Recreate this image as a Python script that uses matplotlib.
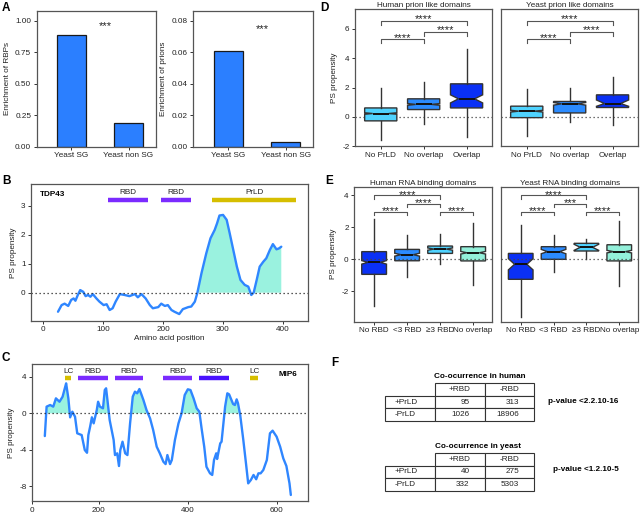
import matplotlib
matplotlib.use('Agg')
import matplotlib.pyplot as plt
import numpy as np
from matplotlib.table import Table

plt.rcParams['font.family'] = ['Liberation Sans', 'DejaVu Sans']
plt.rcParams['font.size'] = 6
plt.rcParams['axes.unicode_minus'] = False

# ---------------- data ----------------
sg_categories = ['Yeast SG', 'Yeast non SG']
rbp_enrichment = [0.885, 0.19]
prion_enrichment = [0.0605, 0.003]

tdp43_pos = [25, 31, 36, 42, 47, 51, 54, 58, 62, 67, 71, 75, 79, 83, 89, 94, 101, 106, 111, 116,
             121, 128, 136, 144, 153, 158, 164, 171, 178, 183, 192, 197, 203, 208, 214, 219, 227,
             233, 242, 247, 253, 257, 264, 272, 279, 286, 290, 294, 300, 306, 311, 317, 323, 329,
             336, 342, 347, 351, 356, 361, 367, 372, 378, 383, 389, 393, 397]
tdp43_ps = [-0.66, -0.43, -0.38, -0.46, -0.25, -0.2, -0.28, -0.08, 0.09, 0.03, -0.12, -0.08, -0.14,
            -0.05, -0.2, -0.31, -0.43, -0.4, -0.6, -0.54, -0.31, -0.05, -0.08, -0.12, -0.05, -0.16,
            -0.05, -0.2, -0.43, -0.54, -0.5, -0.38, -0.46, -0.43, -0.6, -0.66, -0.74, -0.57, -0.5,
            -0.48, -0.31, -0.02, 0.67, 1.36, 1.88, 2.17, 2.4, 2.67, 2.69, 2.52, 2.06, 1.48, 0.9,
            0.44, 0.27, 0.21, -0.08, 0.0, 0.44, 0.9, 1.07, 1.19, 1.48, 1.68, 1.5, 1.53, 1.59]
tdp43_domains = ['RBD', 'RBD', 'PrLD']
tdp43_dom_start = [108, 197, 282]
tdp43_dom_end = [175, 247, 422]

mip6_pos = [78, 82, 90, 97, 103, 111, 118, 124, 126, 131, 135, 140, 146, 151, 161, 168, 173, 176,
            180, 184, 188, 195, 198, 202, 209, 213, 216, 219, 224, 233, 236, 241, 245, 248, 253,
            259, 264, 270, 276, 281, 286, 291, 296, 300, 307, 315, 322, 330, 337, 345, 350, 354,
            360, 364, 371, 379, 386, 393, 400, 406, 413, 420, 426, 431, 437, 442, 450, 455, 459,
            464, 466, 473, 476, 484, 489, 493, 502, 506, 510, 513, 518, 525, 531, 536, 542, 548,
            554, 559, 564, 570, 578, 585, 591, 600, 608, 615, 622, 629, 632]
mip6_ps = [-2.49, 0.73, 0.91, 0.73, 1.64, 1.27, 1.82, 2.92, 3.28, 1.64, -0.44, 0.18, -0.37, -2.19,
           -2.38, -4.02, -4.32, -2.38, -1.47, -0.44, -1.1, 0.36, 1.27, 0.73, 0.55, 2.55, 2.74, 1.46,
           -0.73, -2.92, -4.57, -4.38, -5.77, -4.02, -3.11, -4.38, -4.57, -1.1, 1.82, 2.37, 2.19,
           2.66, 2.0, 1.46, 0.36, -0.55, -1.83, -3.66, -4.38, -5.3, -5.56, -4.57, -5.56, -5.11,
           -2.92, -1.1, 0.0, 2.0, 2.63, 2.55, 1.64, 0.55, 0.18, -1.64, -3.66, -5.85, -6.57, -6.75,
           -5.11, -4.38, -5.0, -3.29, -3.11, 0.73, 2.19, 2.08, 1.02, 0.91, 1.53, 1.1, -0.19, -2.92,
           -5.48, -7.67, -7.3, -6.75, -7.22, -6.57, -6.57, -6.21, -5.11, -2.19, -1.9, -2.56, -3.66,
           -4.93, -5.77, -7.67, -8.94]
mip6_domains = ['LC', 'RBD', 'RBD', 'RBD', 'RBD', 'LC']
mip6_dom_start = [124, 152, 235, 345, 426, 540]
mip6_dom_end = [137, 220, 300, 409, 492, 559]
mip6_xticklabels = ['0', '200', '400', '600']

prld_categories = ['No PrLD', 'No overlap', 'Overlap']
human_prld_whislo = [-1.59, -0.45, -1.4]
human_prld_q1 = [-0.27, 0.5, 0.61]
human_prld_med = [0.23, 0.85, 1.23]
human_prld_q3 = [0.61, 1.23, 2.25]
human_prld_whishi = [1.94, 2.37, 4.6]
human_prld_cilo = [0.18, 0.79, 0.95]
human_prld_cihi = [0.28, 0.91, 1.5]

yeast_prld_whislo = [-1.27, -0.36, -0.55]
yeast_prld_q1 = [-0.05, 0.27, 0.64]
yeast_prld_med = [0.39, 0.89, 0.91]
yeast_prld_q3 = [0.73, 1.05, 1.5]
yeast_prld_whishi = [1.91, 2.0, 2.73]
yeast_prld_cilo = [0.33, 0.8, 0.72]
yeast_prld_cihi = [0.45, 0.98, 1.15]

rbd_categories = ['No RBD', '<3 RBD', '\u22653 RBD', 'No overlap']
human_rbd_whislo = [-2.92, -1.09, -0.29, -1.6]
human_rbd_q1 = [-0.94, -0.09, 0.37, -0.1]
human_rbd_med = [-0.19, 0.29, 0.64, 0.41]
human_rbd_q3 = [0.48, 0.62, 0.83, 0.79]
human_rbd_whishi = [2.5, 1.5, 1.58, 2.25]
human_rbd_cilo = [-0.3, 0.2, 0.57, 0.33]
human_rbd_cihi = [-0.08, 0.38, 0.71, 0.49]

yeast_rbd_whislo = [-3.63, -0.82, 0.0, -1.67]
yeast_rbd_q1 = [-1.25, 0.0, 0.52, -0.1]
yeast_rbd_med = [-0.31, 0.48, 0.75, 0.48]
yeast_rbd_q3 = [0.37, 0.79, 1.0, 0.91]
yeast_rbd_whishi = [2.14, 1.52, 1.25, 2.39]
yeast_rbd_cilo = [-0.66, 0.35, 0.56, 0.4]
yeast_rbd_cihi = [0.04, 0.62, 0.94, 0.56]

prld_pairs = [(0, 1), (1, 2), (0, 2)]
human_prld_sig = ['****', '****', '****']
yeast_prld_sig = ['****', '****', '****']
prld_bracket_y = [5.3, 5.8, 6.55]

rbd_pairs = [(0, 1), (1, 2), (0, 2), (2, 3)]
human_rbd_sig = ['****', '****', '****', '****']
yeast_rbd_sig = ['****', '***', '****', '****']
rbd_bracket_y = [2.98, 3.46, 4.0, 2.98]

row_labels = ['+PrLD', '-PrLD']
col_labels = ['+RBD', '-RBD']
human_counts = [[95, 313], [1026, 18906]]
yeast_counts = [[40, 275], [332, 5303]]
human_pvalue = 'p-value <2.2.10-16'
yeast_pvalue = 'p-value <1.2.10-5'

# ---------------- style ----------------
W, H = 643, 513
fig = plt.figure(figsize=(W / 100, H / 100), dpi=100)

EDGE = '#555555'
BAR_BLUE = '#2B7FFF'
LINE_BLUE = '#2F86FF'
AQUA = '#9AF2DF'
PURPLE = '#7B2BFF'
DEEP_PURPLE = '#4A12FF'
GOLD = '#D6BE00'
C_LIGHT = '#4FD3FF'
C_MID = '#2B8BFF'
C_DEEP = '#0A30F5'
C_AQUA = '#93F0DA'
FS = 5.9
STAR_FS = 8


def add_ax(l, t, r, b):
    return fig.add_axes([l / W, 1 - b / H, (r - l) / W, (b - t) / H])


def style(ax):
    for s in ax.spines.values():
        s.set_color(EDGE)
        s.set_linewidth(0.9)
    ax.tick_params(length=2.5, width=0.7, color='#333333', labelsize=FS, pad=1.5,
                   labelcolor='#222222')


def panel_label(txt, x, y):
    fig.text(x / W, 1 - y / H, txt, fontsize=8.5, fontweight='bold', va='top', ha='left')


# ---------------- Panel A ----------------
for (l, r), vals, ylab, ticks, fmt, top, star_y in [
        ((36.7, 156), rbp_enrichment, 'Enrichment of RBPs', [0, 0.25, 0.5, 0.75, 1.0], '%.2f', 1.079, 0.93),
        ((193.3, 313.3), prion_enrichment, 'Enrichment of prions', [0, 0.02, 0.04, 0.06, 0.08], '%.2f', 0.0864, 0.073)]:
    ax = add_ax(l, 10.7, r, 146.7)
    style(ax)
    x = np.arange(len(sg_categories))
    ax.bar(x, vals, width=0.5, color=BAR_BLUE, edgecolor='#1a1a1a', linewidth=0.9)
    ax.set_xlim(-0.605, 1.48)
    ax.set_ylim(0, top)
    ax.set_xticks(x)
    ax.set_xticklabels(sg_categories)
    ax.set_yticks(ticks)
    ax.set_yticklabels([fmt % t for t in ticks])
    ax.set_ylabel(ylab, fontsize=FS, labelpad=3, color='#222222')
    ax.text(0.6, star_y, '***', ha='center', va='baseline', fontsize=STAR_FS, color='#222222')
panel_label('A', 2, 2)

# ---------------- Panel B ----------------
axB = add_ax(31, 184, 308.3, 320.7)
style(axB)
bx = np.array(tdp43_pos)
by = np.array(tdp43_ps)
axB.fill_between(bx, by, 0, where=by > 0, interpolate=True, color=AQUA, linewidth=0)
axB.plot(bx, by, color=LINE_BLUE, lw=1.7, solid_capstyle='round')
axB.axhline(0, color='#222222', ls=(0, (1, 2.2)), lw=0.9)
for name, s, e in zip(tdp43_domains, tdp43_dom_start, tdp43_dom_end):
    axB.hlines(3.2, s, e, color=GOLD if name == 'PrLD' else PURPLE, lw=3.2)
    axB.text((s + e) / 2, 3.47, name, ha='center', va='center', fontsize=FS, color='#222222')
axB.text(-5, 3.38, 'TDP43', fontweight='bold', fontsize=FS, ha='left', va='center')
axB.set_xlim(-20, 442)
axB.set_ylim(-0.97, 3.76)
axB.set_xticks([0, 100, 200, 300, 400])
axB.set_yticks([0, 1, 2, 3])
axB.set_xlabel('Amino acid position', fontsize=FS, labelpad=1, color='#222222')
axB.set_ylabel('PS propensity', fontsize=FS, labelpad=3, color='#222222')
panel_label('B', 2, 175)

# ---------------- Panel C ----------------
axC = add_ax(32.3, 364, 307.7, 501)
style(axC)
cx = np.array(mip6_pos)
cy = np.array(mip6_ps)
axC.fill_between(cx, cy, 0, where=cy > 0, interpolate=True, color=AQUA, linewidth=0)
axC.plot(cx, cy, color=LINE_BLUE, lw=1.7, solid_capstyle='round')
axC.axhline(0, color='#222222', ls=(0, (1, 2.2)), lw=0.9)
rbd_i = 0
for name, s, e in zip(mip6_domains, mip6_dom_start, mip6_dom_end):
    if name == 'LC':
        col = GOLD
    else:
        col = DEEP_PURPLE if rbd_i == 3 else PURPLE
        rbd_i += 1
    axC.hlines(3.9, s, e, color=col, lw=3.2)
    axC.text((s + e) / 2, 4.56, name, ha='center', va='center', fontsize=FS, color='#222222')
axC.text(646, 4.2, 'MIP6', fontweight='bold', fontsize=FS, ha='right', va='center')
c_left, c_right = 49.8, 670
axC.set_xlim(c_left, c_right)
axC.set_ylim(-9.6, 5.4)
axC.set_xticks([c_left, 200, 400, 600])
axC.set_xticklabels(mip6_xticklabels)
axC.set_yticks([-8, -4, 0, 4])
axC.set_ylabel('PS propensity', fontsize=FS, labelpad=3, color='#222222')
panel_label('C', 2, 352)


# ---------------- box plot helpers ----------------
def boxes(ax, whislo, q1, med, q3, whishi, cilo, cihi, colors):
    stats = []
    for i in range(len(med)):
        stats.append(dict(whislo=whislo[i], q1=q1[i], med=med[i], q3=q3[i], whishi=whishi[i],
                          cilo=cilo[i], cihi=cihi[i], fliers=[]))
    bp = ax.bxp(stats, positions=np.arange(len(med)), widths=0.75, shownotches=True,
                patch_artist=True, showcaps=False, showfliers=False,
                boxprops=dict(edgecolor='#333333', linewidth=1.0),
                medianprops=dict(color='#111111', linewidth=1.4),
                whiskerprops=dict(color='#333333', linewidth=1.0))
    for patch, c in zip(bp['boxes'], colors):
        patch.set_facecolor(c)


def brackets(ax, pairs, ys, labels, leg, text_off):
    for (a, b), y, lab in zip(pairs, ys, labels):
        ax.plot([a, a, b, b], [y - leg, y, y, y - leg], color='#555555', lw=0.8)
        ax.text((a + b) / 2, y + text_off, lab, ha='center', va='baseline', fontsize=STAR_FS,
                color='#222222')


# ---------------- Panel D ----------------
prld_colors = [C_LIGHT, C_MID, C_DEEP]
for (l, r), title, arrs, sig, first in [
        ((355, 492.3), 'Human prion like domains',
         (human_prld_whislo, human_prld_q1, human_prld_med, human_prld_q3, human_prld_whishi,
          human_prld_cilo, human_prld_cihi), human_prld_sig, True),
        ((501, 638.3), 'Yeast prion like domains',
         (yeast_prld_whislo, yeast_prld_q1, yeast_prld_med, yeast_prld_q3, yeast_prld_whishi,
          yeast_prld_cilo, yeast_prld_cihi), yeast_prld_sig, False)]:
    ax = add_ax(l, 9.3, r, 146.3)
    style(ax)
    ax.axhline(0, color='#444444', ls=(0, (1, 2.2)), lw=0.9, zorder=0.5)
    boxes(ax, *arrs, prld_colors)
    brackets(ax, prld_pairs, prld_bracket_y, sig, 0.3, -0.13)
    ax.set_xlim(-0.6, 2.6)
    ax.set_ylim(-2, 7.32)
    ax.set_xticks(range(3))
    ax.set_xticklabels(prld_categories)
    ax.set_yticks([-2, 0, 2, 4, 6])
    ax.set_title(title, fontsize=FS, pad=1.5, color='#222222')
    if first:
        ax.set_ylabel('PS propensity', fontsize=FS, labelpad=3, color='#222222')
    else:
        ax.tick_params(left=False, labelleft=False)
panel_label('D', 320, 2)

# ---------------- Panel E ----------------
rbd_colors = [C_DEEP, C_MID, C_LIGHT, C_AQUA]
for (l, r), title, arrs, sig, first in [
        ((354.3, 492.3), 'Human RNA binding domains',
         (human_rbd_whislo, human_rbd_q1, human_rbd_med, human_rbd_q3, human_rbd_whishi,
          human_rbd_cilo, human_rbd_cihi), human_rbd_sig, True),
        ((501, 638.3), 'Yeast RNA binding domains',
         (yeast_rbd_whislo, yeast_rbd_q1, yeast_rbd_med, yeast_rbd_q3, yeast_rbd_whishi,
          yeast_rbd_cilo, yeast_rbd_cihi), yeast_rbd_sig, False)]:
    ax = add_ax(l, 186.7, r, 321.7)
    style(ax)
    boxes(ax, *arrs, rbd_colors)
    ax.axhline(0, color='#444444', ls=(0, (1, 2.2)), lw=0.9, zorder=5)
    brackets(ax, rbd_pairs, rbd_bracket_y, sig, 0.21, -0.15)
    ax.set_xlim(-0.6, 3.58)
    ax.set_ylim(-3.9, 4.54)
    ax.set_xticks(range(4))
    ax.set_xticklabels(rbd_categories)
    ax.set_yticks([-2, 0, 2, 4])
    ax.set_title(title, fontsize=FS, pad=1.5, color='#222222')
    if first:
        ax.set_ylabel('PS propensity', fontsize=FS, labelpad=3, color='#222222')
    else:
        ax.tick_params(left=False, labelleft=False)
panel_label('E', 325, 175)

# ---------------- Panel F ----------------
axF = fig.add_axes([320 / W, 0, 323 / W, 173 / H])
axF.axis('off')
axF.set_xlim(0, 1)
axF.set_ylim(0, 1)


def count_table(ax, counts, bbox):
    tb = Table(ax, bbox=bbox)
    for j, lab in enumerate(col_labels):
        tb.add_cell(0, j + 1, width=1, height=1, text=lab, loc='center')
    for i, lab in enumerate(row_labels):
        c = tb.add_cell(i + 1, 0, width=1, height=1, text=lab, loc='left')
        c.PAD = 0.19
        for j, v in enumerate(counts[i]):
            c = tb.add_cell(i + 1, j + 1, width=1, height=1, text=str(v), loc='right')
            c.PAD = 0.3
    tb.auto_set_font_size(False)
    tb.set_fontsize(FS)
    for cell in tb.get_celld().values():
        cell.set_edgecolor('#333333')
        cell.set_linewidth(0.8)
        cell.get_text().set_color('#222222')
    ax.add_table(tb)


count_table(axF, human_counts, [0.2012, 0.5318, 0.4622, 0.2179])
count_table(axF, yeast_counts, [0.2012, 0.1289, 0.4622, 0.2162])
axF.text(0.4954, 0.788, 'Co-ocurrence in human', fontweight='bold', fontsize=FS, ha='center', va='center')
axF.text(0.490, 0.387, 'Co-ocurrence in yeast', fontweight='bold', fontsize=FS, ha='center', va='center')
axF.text(0.7068, 0.643, human_pvalue, fontweight='bold', fontsize=FS, ha='left', va='center')
axF.text(0.7223, 0.2486, yeast_pvalue, fontweight='bold', fontsize=FS, ha='left', va='center')
panel_label('F', 331, 357)

fig.savefig('out.png', dpi=100)
